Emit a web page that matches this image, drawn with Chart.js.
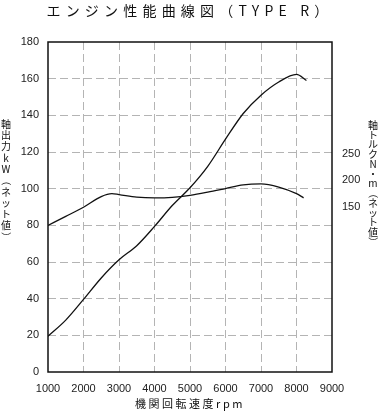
<!DOCTYPE html>
<html>
<head>
<meta charset="utf-8">
<script src="https://cdn.jsdelivr.net/npm/chart.js@4"></script>
<style>
  html, body { margin: 0; padding: 0; background: #fff; }
</style>
</head>
<body>
<canvas id="graph1" width="380" height="411"></canvas>
<script>
// texts
const titleText = 'エンジン性能曲線図（TYPE R）'
const xTitle = '機関回転速度rpm'
const leftTitle = '軸出力kW（ネット値）'
const rightTitle = '軸トルクN・m（ネット値）'

// tick labels
const rpmTicks = [1000, 2000, 3000, 4000, 5000, 6000, 7000, 8000, 9000]
const kwTicks = [0, 20, 40, 60, 80, 100, 120, 140, 160, 180]
const nmTicks = [150, 200, 250]

// power curve (kW)
const powerRpm = [1000, 1500, 2000, 2500, 3000, 3500, 4000, 4500, 5000, 5500, 6000, 6500, 7000, 7500, 8000, 8280]
const powerKw = [19.5, 28.3, 39.6, 51.3, 61.2, 68.9, 79.4, 90.8, 100.5, 112.2, 127, 141, 151, 158.2, 162.3, 159]

// torque curve (N·m)
const torqueRpm = [1000, 1500, 2000, 2500, 2800, 3000, 3500, 4000, 4500, 5000, 5500, 6000, 6500, 7000, 7500, 8000, 8200]
const torqueNm = [115.5, 132.4, 149.6, 169.6, 175.1, 173.4, 168.6, 167.2, 168.2, 172.0, 177.9, 184.7, 191.6, 193.4, 187.5, 175.1, 167.2]

const tickFont = { family: "'Liberation Sans', Arial, sans-serif", size: 11 }
const jpFont = "'Noto Sans CJK JP', sans-serif"
const gridGrey = '#b4b4b4'

// draws chart area frame + titles
const decor = {
  id: 'decor',
  beforeDatasetsDraw(chart) {
    const { ctx, chartArea: a } = chart
    ctx.save()
    ctx.strokeStyle = '#111'
    ctx.lineWidth = 1.5
    ctx.strokeRect(a.left, a.top, a.right - a.left, a.bottom - a.top)
    ctx.restore()
  },
  afterDraw(chart) {
    const ctx = chart.ctx
    ctx.save()
    ctx.fillStyle = '#111'
    ctx.textAlign = 'center'
    ctx.textBaseline = 'middle'

    ctx.font = '14px ' + jpFont
    ctx.letterSpacing = '5.2px'
    ctx.fillText(titleText, 190, 11)

    ctx.font = '11px ' + jpFont
    ctx.letterSpacing = '2.5px'
    ctx.fillText(xTitle, 190, 404)

    ctx.letterSpacing = '0px'
    ctx.font = '10px ' + jpFont
    const vert = (txt, x, y0, step) => {
      Array.from(txt).forEach((ch, i) => {
        const y = y0 + i * step
        if (ch === '（' || ch === '）') {
          ctx.save()
          ctx.translate(x, y)
          ctx.rotate(Math.PI / 2)
          ctx.fillText(ch, 0, 0)
          ctx.restore()
        } else {
          ctx.fillText(ch, x, y)
        }
      })
    }
    vert(leftTitle, 6, 124, 11.3)
    vert(rightTitle, 373, 125, 9.75)
    ctx.restore()
  }
}

const ctx = document.getElementById('graph1')

new Chart(ctx, {
  type: 'line',
  data: {
    datasets: [
      {
        label: 'power',
        data: powerRpm.map((r, i) => ({ x: r, y: powerKw[i] })),
        yAxisID: 'y',
        borderColor: '#111',
        borderWidth: 1.3,
        pointRadius: 0,
        cubicInterpolationMode: 'monotone',
        fill: false
      },
      {
        label: 'torque',
        data: torqueRpm.map((r, i) => ({ x: r, y: torqueNm[i] })),
        yAxisID: 'y2',
        borderColor: '#111',
        borderWidth: 1.3,
        pointRadius: 0,
        cubicInterpolationMode: 'monotone',
        fill: false
      }
    ]
  },
  options: {
    responsive: false,
    animation: false,
    devicePixelRatio: 1,
    layout: { padding: { top: 42, left: 0, right: 0, bottom: 0 } },
    plugins: { legend: { display: false }, tooltip: { enabled: false } },
    scales: {
      x: {
        type: 'linear',
        min: 1000,
        max: 9000,
        afterBuildTicks: s => { s.ticks = rpmTicks.map(v => ({ value: v })) },
        afterFit: s => { s.height = 39 },
        border: { display: false, dash: [8, 4] },
        grid: {
          drawTicks: false,
          lineWidth: 1,
          color: c => (c.tick && (c.tick.value === 1000 || c.tick.value === 9000)) ? 'rgba(0,0,0,0)' : gridGrey
        },
        ticks: { padding: 10, font: tickFont, color: '#222', maxRotation: 0, autoSkip: false, callback: v => String(v) }
      },
      y: {
        position: 'left',
        min: 0,
        max: 180,
        afterBuildTicks: s => { s.ticks = kwTicks.map(v => ({ value: v })) },
        afterFit: s => { s.width = 48 },
        border: { display: false, dash: [8, 4] },
        grid: {
          drawTicks: false,
          lineWidth: 1,
          color: c => (c.tick && (c.tick.value === 0 || c.tick.value === 180)) ? 'rgba(0,0,0,0)' : gridGrey
        },
        ticks: { padding: 9, font: tickFont, color: '#222', callback: v => String(v) }
      },
      y2: {
        position: 'right',
        min: -160,
        max: 460,
        afterBuildTicks: s => { s.ticks = nmTicks.map(v => ({ value: v })) },
        afterFit: s => { s.width = 48 },
        border: { display: false },
        grid: { display: false, drawTicks: false },
        ticks: { padding: 10, font: tickFont, color: '#222', callback: v => String(v) }
      }
    }
  },
  plugins: [decor]
})
</script>
</body>
</html>
